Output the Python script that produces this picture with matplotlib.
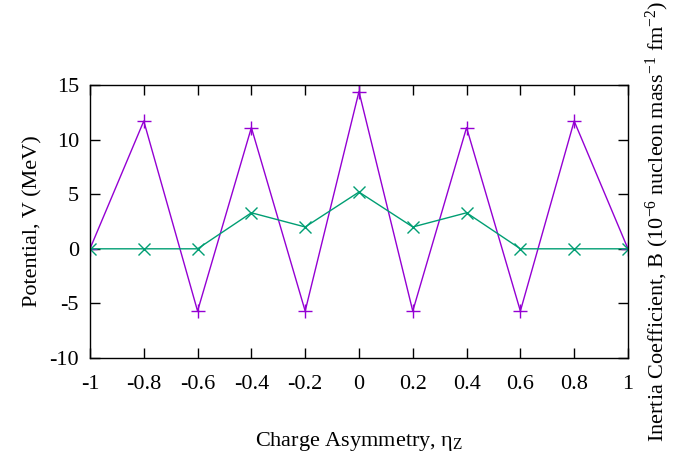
import matplotlib
matplotlib.use("Agg")
import matplotlib.pyplot as plt

# Charge asymmetry grid and the two curves
eta = [-1, -0.8, -0.6, -0.4, -0.2, 0, 0.2, 0.4, 0.6, 0.8, 1]
potential = [0, 11.7, -5.7, 11.1, -5.7, 14.4, -5.7, 11.1, -5.7, 11.7, 0]
inertia = [0, 0, 0, 3.3, 2.0, 5.2, 2.0, 3.3, 0, 0, 0]

xticks = [-1, -0.8, -0.6, -0.4, -0.2, 0, 0.2, 0.4, 0.6, 0.8, 1]
xticklabels = ["-1", "-0.8", "-0.6", "-0.4", "-0.2", "0", "0.2", "0.4", "0.6", "0.8", "1"]
yticks = [-10, -5, 0, 5, 10, 15]

plt.rcParams['font.family'] = ['Liberation Serif', 'DejaVu Serif']
plt.rcParams['mathtext.fontset'] = 'custom'
plt.rcParams['mathtext.rm'] = 'Liberation Serif'
plt.rcParams['mathtext.it'] = 'Liberation Serif:italic'
plt.rcParams['axes.unicode_minus'] = False
plt.rcParams['font.size'] = 16

fig = plt.figure(figsize=(6.9, 4.61), dpi=100)
ax = fig.add_axes([0.1304, 0.2234, 0.7797, 0.5922])

ax.plot(eta, potential, color='#9400d3', lw=1, marker='+', ms=10, mew=1)
ax.plot(eta, inertia, color='#009e73', lw=1, marker='x', ms=9, mew=1)

ax.set_xlim(-1, 1)
ax.set_ylim(-10, 15)
ax.set_xticks(xticks)
ax.set_xticklabels(xticklabels)
ax.set_yticks(yticks)
ax.tick_params(direction='in', length=7, width=1, top=True, right=True,
               labelsize=16)
ax.tick_params(axis='x', pad=12)
ax.tick_params(axis='y', pad=8)
for s in ax.spines.values():
    s.set_linewidth(1)

ax.set_xlabel("Charge Asymmetry, η$_\\mathregular{Z}$", fontsize=16, labelpad=26)
ax.set_ylabel("Potential, V (MeV)", fontsize=16, labelpad=5)
ax.text(1.055, 0.5,
        "Inertia Coefficient, B (10$^\\mathregular{-6}$ nucleon mass$^\\mathregular{-1}$ fm$^\\mathregular{-2}$)",
        transform=ax.transAxes, rotation=90, ha='center', va='center', fontsize=16)

fig.savefig("out.png", dpi=100)
